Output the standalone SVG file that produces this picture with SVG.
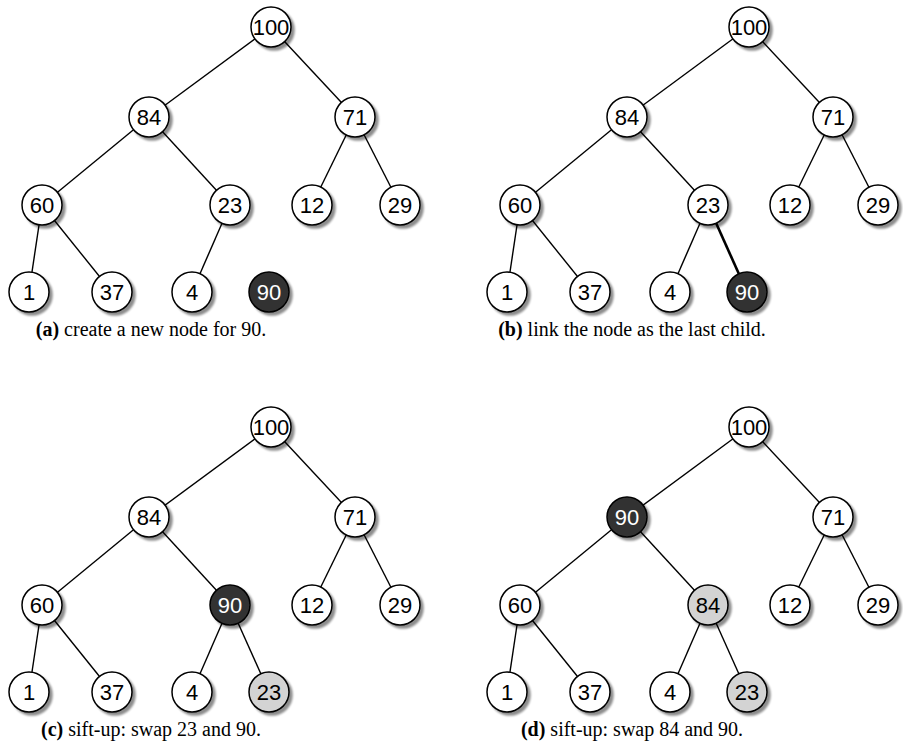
<svg xmlns="http://www.w3.org/2000/svg" width="903" height="755" viewBox="0 0 903 755">
<defs>
<filter id="sh" x="-30%" y="-30%" width="170%" height="170%">
<feGaussianBlur in="SourceAlpha" stdDeviation="1.2"/>
<feOffset dx="3" dy="3" result="b"/>
<feComponentTransfer><feFuncA type="linear" slope="0.45"/></feComponentTransfer>
<feMerge><feMergeNode/><feMergeNode in="SourceGraphic"/></feMerge>
</filter>
<style>
.n circle{stroke:#000;stroke-width:1.5;fill:#fff;filter:url(#sh)}
.n text{font-family:"Liberation Sans",Arial,sans-serif;font-size:22px;text-anchor:middle;fill:#000}
.d circle{fill:#333}
.d text{fill:#fff}
.g circle{fill:#d3d3d3}
.e line{stroke:#000;stroke-width:1.4}
.e line.t{stroke-width:2.6}
.cap{font-family:"Liberation Serif","Times New Roman",serif;font-size:20px;text-anchor:middle}
</style>
</defs>
<g class="e" id="connectors">
<line x1="271" y1="27" x2="149" y2="117"/><line x1="271" y1="27" x2="355" y2="117"/>
<line x1="149" y1="117" x2="42" y2="205"/><line x1="149" y1="117" x2="230" y2="205"/>
<line x1="355" y1="117" x2="312" y2="205"/><line x1="355" y1="117" x2="400" y2="205"/>
<line x1="42" y1="205" x2="29" y2="292"/><line x1="42" y1="205" x2="112" y2="292"/>
<line x1="230" y1="205" x2="192" y2="292"/>
<line x1="749" y1="27" x2="627" y2="117"/><line x1="749" y1="27" x2="833" y2="117"/>
<line x1="627" y1="117" x2="520" y2="205"/><line x1="627" y1="117" x2="708" y2="205"/>
<line x1="833" y1="117" x2="790" y2="205"/><line x1="833" y1="117" x2="878" y2="205"/>
<line x1="520" y1="205" x2="507" y2="292"/><line x1="520" y1="205" x2="590" y2="292"/>
<line x1="708" y1="205" x2="670" y2="292"/><line class="t" x1="708" y1="205" x2="747" y2="292"/>
<line x1="271" y1="427" x2="149" y2="517"/><line x1="271" y1="427" x2="355" y2="517"/>
<line x1="149" y1="517" x2="42" y2="605"/><line x1="149" y1="517" x2="230" y2="605"/>
<line x1="355" y1="517" x2="312" y2="605"/><line x1="355" y1="517" x2="400" y2="605"/>
<line x1="42" y1="605" x2="29" y2="692"/><line x1="42" y1="605" x2="112" y2="692"/>
<line x1="230" y1="605" x2="192" y2="692"/><line x1="230" y1="605" x2="269" y2="692"/>
<line x1="749" y1="427" x2="627" y2="517"/><line x1="749" y1="427" x2="833" y2="517"/>
<line x1="627" y1="517" x2="520" y2="605"/><line x1="627" y1="517" x2="708" y2="605"/>
<line x1="833" y1="517" x2="790" y2="605"/><line x1="833" y1="517" x2="878" y2="605"/>
<line x1="520" y1="605" x2="507" y2="692"/><line x1="520" y1="605" x2="590" y2="692"/>
<line x1="708" y1="605" x2="670" y2="692"/><line x1="708" y1="605" x2="747" y2="692"/>
</g>
<g id="a100" class="n"><circle cx="271" cy="27" r="20"/><text x="271" y="35">100</text></g>
<g id="a84" class="n"><circle cx="149" cy="117" r="20"/><text x="149" y="125">84</text></g>
<g id="a71" class="n"><circle cx="355" cy="117" r="20"/><text x="355" y="125">71</text></g>
<g id="a60" class="n"><circle cx="42" cy="205" r="20"/><text x="42" y="213">60</text></g>
<g id="a23" class="n"><circle cx="230" cy="205" r="20"/><text x="230" y="213">23</text></g>
<g id="a12" class="n"><circle cx="312" cy="205" r="20"/><text x="312" y="213">12</text></g>
<g id="a29" class="n"><circle cx="400" cy="205" r="20"/><text x="400" y="213">29</text></g>
<g id="a1" class="n"><circle cx="29" cy="292" r="20"/><text x="29" y="300">1</text></g>
<g id="a37" class="n"><circle cx="112" cy="292" r="20"/><text x="112" y="300">37</text></g>
<g id="a4" class="n"><circle cx="192" cy="292" r="20"/><text x="192" y="300">4</text></g>
<g id="a90" class="n d"><circle cx="269" cy="292" r="20"/><text x="269" y="300">90</text></g>
<g id="b100" class="n"><circle cx="749" cy="27" r="20"/><text x="749" y="35">100</text></g>
<g id="b84" class="n"><circle cx="627" cy="117" r="20"/><text x="627" y="125">84</text></g>
<g id="b71" class="n"><circle cx="833" cy="117" r="20"/><text x="833" y="125">71</text></g>
<g id="b60" class="n"><circle cx="520" cy="205" r="20"/><text x="520" y="213">60</text></g>
<g id="b23" class="n"><circle cx="708" cy="205" r="20"/><text x="708" y="213">23</text></g>
<g id="b12" class="n"><circle cx="790" cy="205" r="20"/><text x="790" y="213">12</text></g>
<g id="b29" class="n"><circle cx="878" cy="205" r="20"/><text x="878" y="213">29</text></g>
<g id="b1" class="n"><circle cx="507" cy="292" r="20"/><text x="507" y="300">1</text></g>
<g id="b37" class="n"><circle cx="590" cy="292" r="20"/><text x="590" y="300">37</text></g>
<g id="b4" class="n"><circle cx="670" cy="292" r="20"/><text x="670" y="300">4</text></g>
<g id="b90" class="n d"><circle cx="747" cy="292" r="20"/><text x="747" y="300">90</text></g>
<g id="c100" class="n"><circle cx="271" cy="427" r="20"/><text x="271" y="435">100</text></g>
<g id="c84" class="n"><circle cx="149" cy="517" r="20"/><text x="149" y="525">84</text></g>
<g id="c71" class="n"><circle cx="355" cy="517" r="20"/><text x="355" y="525">71</text></g>
<g id="c60" class="n"><circle cx="42" cy="605" r="20"/><text x="42" y="613">60</text></g>
<g id="c90" class="n d"><circle cx="230" cy="605" r="20"/><text x="230" y="613">90</text></g>
<g id="c12" class="n"><circle cx="312" cy="605" r="20"/><text x="312" y="613">12</text></g>
<g id="c29" class="n"><circle cx="400" cy="605" r="20"/><text x="400" y="613">29</text></g>
<g id="c1" class="n"><circle cx="29" cy="692" r="20"/><text x="29" y="700">1</text></g>
<g id="c37" class="n"><circle cx="112" cy="692" r="20"/><text x="112" y="700">37</text></g>
<g id="c4" class="n"><circle cx="192" cy="692" r="20"/><text x="192" y="700">4</text></g>
<g id="c23" class="n g"><circle cx="269" cy="692" r="20"/><text x="269" y="700">23</text></g>
<g id="d100" class="n"><circle cx="749" cy="427" r="20"/><text x="749" y="435">100</text></g>
<g id="d90" class="n d"><circle cx="627" cy="517" r="20"/><text x="627" y="525">90</text></g>
<g id="d71" class="n"><circle cx="833" cy="517" r="20"/><text x="833" y="525">71</text></g>
<g id="d60" class="n"><circle cx="520" cy="605" r="20"/><text x="520" y="613">60</text></g>
<g id="d84" class="n g"><circle cx="708" cy="605" r="20"/><text x="708" y="613">84</text></g>
<g id="d12" class="n"><circle cx="790" cy="605" r="20"/><text x="790" y="613">12</text></g>
<g id="d29" class="n"><circle cx="878" cy="605" r="20"/><text x="878" y="613">29</text></g>
<g id="d1" class="n"><circle cx="507" cy="692" r="20"/><text x="507" y="700">1</text></g>
<g id="d37" class="n"><circle cx="590" cy="692" r="20"/><text x="590" y="700">37</text></g>
<g id="d4" class="n"><circle cx="670" cy="692" r="20"/><text x="670" y="700">4</text></g>
<g id="d23" class="n g"><circle cx="747" cy="692" r="20"/><text x="747" y="700">23</text></g>
<text class="cap" x="151" y="336"><tspan font-weight="bold">(a)</tspan> create a new node for 90.</text>
<text class="cap" x="632" y="336"><tspan font-weight="bold">(b)</tspan> link the node as the last child.</text>
<text class="cap" x="151" y="736"><tspan font-weight="bold">(c)</tspan> sift-up: swap 23 and 90.</text>
<text class="cap" x="632" y="736"><tspan font-weight="bold">(d)</tspan> sift-up: swap 84 and 90.</text>
</svg>
